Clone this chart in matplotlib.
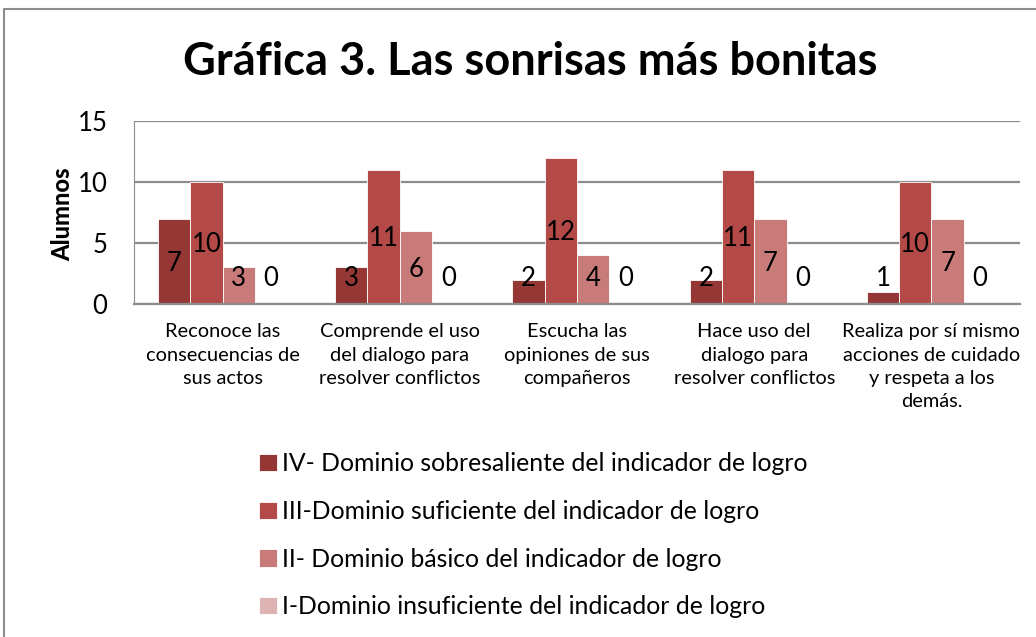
import numpy as np
import matplotlib.pyplot as plt
from matplotlib.lines import Line2D

plt.rcParams['font.family'] = ['Lato', 'DejaVu Sans']

categories = ['Reconoce las\nconsecuencias de\nsus actos',
              'Comprende el uso\ndel dialogo para\nresolver conflictos',
              'Escucha las\nopiniones de sus\ncompañeros',
              'Hace uso del\ndialogo para\nresolver conflictos',
              'Realiza por sí mismo\nacciones de cuidado\ny respeta a los\ndemás.']
series_names = ['IV- Dominio sobresaliente del indicador de logro',
                'III-Dominio suficiente del indicador de logro',
                'II- Dominio básico del indicador de logro',
                'I-Dominio insuficiente del indicador de logro']
nivel_iv = [7, 3, 2, 2, 1]
nivel_iii = [10, 11, 12, 11, 10]
nivel_ii = [3, 6, 4, 7, 7]
nivel_i = [0, 0, 0, 0, 0]
colors = ['#953735', '#B34A48', '#C97B7A', '#DEB3B3']
y_ticks = [0, 5, 10, 15]

fig = plt.figure(figsize=(10.36, 6.37), dpi=100)
ax = fig.add_axes([134 / 1036, 1 - 304 / 637, 886 / 1036, 183 / 637])

x = np.arange(len(categories))
w = 0.1825
for i, (vals, name, col) in enumerate(zip([nivel_iv, nivel_iii, nivel_ii, nivel_i], series_names, colors)):
    pos = x + (i - 1.5) * w
    ax.bar(pos, vals, width=w, color=col, edgecolor='white', linewidth=0.6, label=name, zorder=2)
    for px, v in zip(pos, vals):
        ax.text(px, max(v / 2 - 0.15, 2.1), str(v), ha='center', va='center', fontsize=18.5, zorder=3)

ax.set_xlim(-0.5, len(categories) - 0.5)
ax.set_ylim(0, 15)
ax.set_yticks(y_ticks)
ax.set_yticklabels([str(t) for t in y_ticks], fontsize=18.5)
ax.set_xticks(x)
ax.set_xticklabels(categories, fontsize=14.4, linespacing=1.45, va='top')
ax.tick_params(axis='both', length=0)
ax.tick_params(axis='y', pad=19)
ax.tick_params(axis='x', pad=14)
ax.yaxis.grid(True, color='#8c8c8c', linewidth=1.6, zorder=0)
ax.set_axisbelow(True)
for s in ['top', 'right']:
    ax.spines[s].set_visible(False)
ax.spines['left'].set_color('#8c8c8c')
ax.spines['bottom'].set_color('#8c8c8c')
ax.spines['bottom'].set_linewidth(1.6)
ax.set_ylabel('Alumnos', fontsize=17, fontweight='black')
ax.yaxis.set_label_coords(-0.067, 0.49)

fig.text(530 / 1036, 1 - 62 / 637, 'Gráfica 3. Las sonrisas más bonitas', ha='center', va='center',
         fontsize=32.5, fontweight='bold')

handles, labels = ax.get_legend_handles_labels()
fig.legend(handles, labels, loc='upper left', bbox_to_anchor=(237 / 1036, 1 - 430 / 637),
           frameon=False, fontsize=17.8, handlelength=0.7, handleheight=0.7,
           handletextpad=0.2, labelspacing=1.0)

# outer frame of the chart area
fig.add_artist(Line2D([4 / 1036, 4 / 1036, 1.0], [0.0, 1 - 9 / 637, 1 - 9 / 637],
                      color='#8c8c8c', linewidth=1.5))

fig.savefig('out.png', dpi=100)
